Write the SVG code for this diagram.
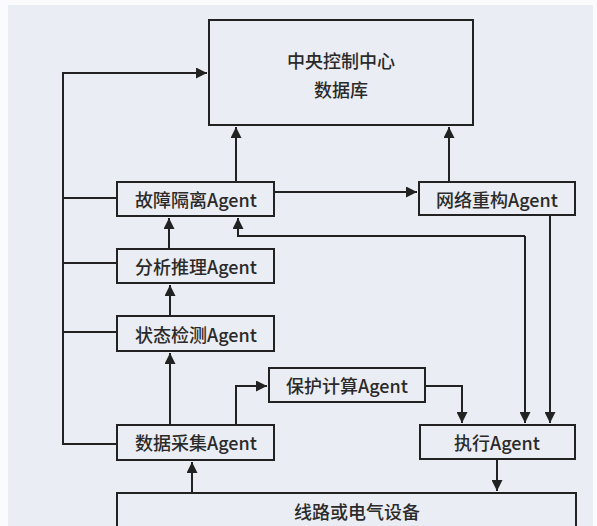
<svg xmlns="http://www.w3.org/2000/svg" width="597" height="526" viewBox="0 0 597 526">
<style>
.box{fill:none;stroke:#222;stroke-width:2}
.ln{fill:none;stroke:#222;stroke-width:2}
text{font-family:"Noto Sans CJK SC","Microsoft YaHei",sans-serif;font-size:18px;font-weight:500;fill:#2a2a2a;text-anchor:middle;dominant-baseline:central}
</style>
<defs>
<marker id="ah" viewBox="0 0 10 10" refX="10" refY="5" markerWidth="5.5" markerHeight="5.5" orient="auto" markerUnits="strokeWidth">
<path d="M0,0 L10,5 L0,10 z" fill="#222"/>
</marker>
</defs>
<rect x="0" y="0" width="597" height="526" fill="#fbfbfd"/>
<rect x="8" y="5" width="585" height="521" fill="#eaedf3"/>
<g id="connectors">
<path class="ln" d="M117,198 H63 V73 H207" marker-end="url(#ah)"/>
<path class="ln" d="M117,263 H63"/>
<path class="ln" d="M117,332 H63"/>
<path class="ln" d="M117,444 H63 V198"/>
<path class="ln" d="M236,182 V127" marker-end="url(#ah)"/>
<path class="ln" d="M449,182 V127" marker-end="url(#ah)"/>
<path class="ln" d="M274,192 H417" marker-end="url(#ah)"/>
<path class="ln" d="M169,249 V218" marker-end="url(#ah)"/>
<path class="ln" d="M170,316 V285" marker-end="url(#ah)"/>
<path class="ln" d="M170,425 V353" marker-end="url(#ah)"/>
<path class="ln" d="M525,236 H238 V218" marker-end="url(#ah)"/>
<path class="ln" d="M525,236 V423" marker-end="url(#ah)"/>
<path class="ln" d="M550,215 V423" marker-end="url(#ah)"/>
<path class="ln" d="M236,425 V386 H267" marker-end="url(#ah)"/>
<path class="ln" d="M425,386 H462 V423" marker-end="url(#ah)"/>
<path class="ln" d="M497,459 V491" marker-end="url(#ah)"/>
<path class="ln" d="M192,493 V462" marker-end="url(#ah)"/>
</g>
<g id="center">
<rect class="box" x="209" y="20" width="264" height="105"/>
<text x="341" y="60">中央控制中心</text>
<text x="341" y="89">数据库</text>
</g>
<g id="fault">
<rect class="box" x="117" y="182" width="157" height="34"/>
<text x="196" y="199">故障隔离Agent</text>
</g>
<g id="network">
<rect class="box" x="419" y="182" width="156" height="33"/>
<text x="497" y="199">网络重构Agent</text>
</g>
<g id="analysis">
<rect class="box" x="117" y="249" width="157" height="34"/>
<text x="196" y="266">分析推理Agent</text>
</g>
<g id="state">
<rect class="box" x="117" y="316" width="157" height="35"/>
<text x="196" y="334">状态检测Agent</text>
</g>
<g id="protect">
<rect class="box" x="269" y="368" width="156" height="34"/>
<text x="347" y="385">保护计算Agent</text>
</g>
<g id="collect">
<rect class="box" x="117" y="425" width="157" height="35"/>
<text x="196" y="442">数据采集Agent</text>
</g>
<g id="exec">
<rect class="box" x="420" y="425" width="155" height="34"/>
<text x="497" y="442">执行Agent</text>
</g>
<g id="device">
<path class="box" d="M117,526 V493 H576 V526"/>
<text x="357" y="511">线路或电气设备</text>
</g>
</svg>
